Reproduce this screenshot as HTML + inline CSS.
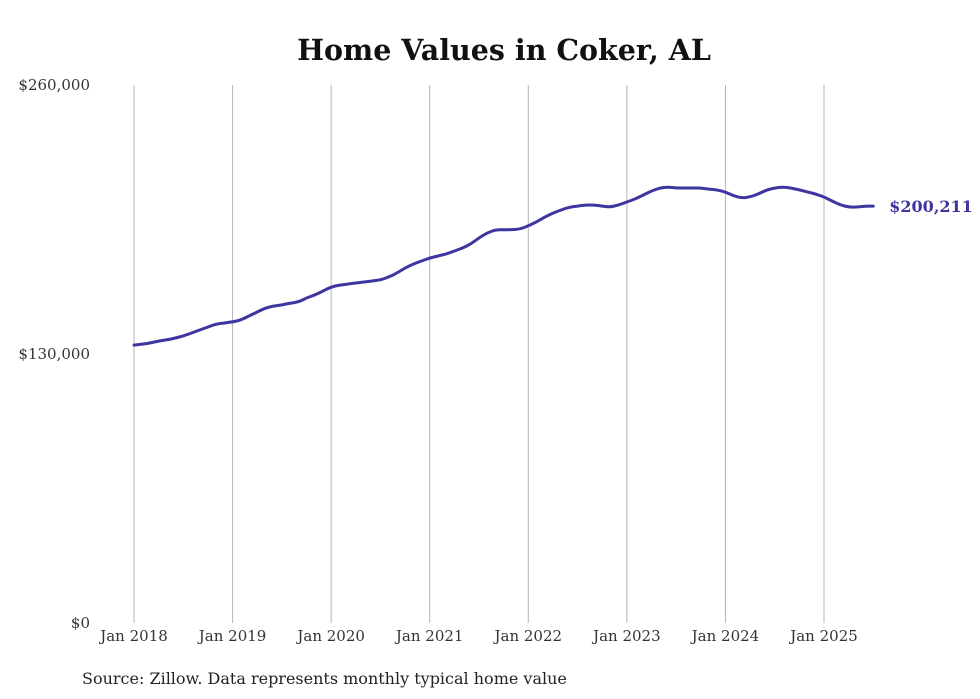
<!DOCTYPE html>
<html><head><meta charset="utf-8"><style>
body{margin:0;background:#fff;}
svg{display:block;font-family:"DejaVu Serif","Liberation Serif",serif;}
</style></head><body>
<svg id="c" width="980" height="699">
<text x="504" y="60" text-anchor="middle" font-size="28.5" font-weight="bold" fill="#111">Home Values in Coker, AL</text>
<text x="82" y="684" font-size="16" fill="#222">Source: Zillow. Data represents monthly typical home value</text>
</svg>
<script>
const yTicks=[0,130000,260000];
const yTickLabels=["$0","$130,000","$260,000"];
const xTickYears=[2018,2019,2020,2021,2022,2023,2024,2025];
const xTickLabels=["Jan 2018","Jan 2019","Jan 2020","Jan 2021","Jan 2022","Jan 2023","Jan 2024","Jan 2025"];
const values=[134300,134800,135300,136300,136800,137700,138700,140100,141600,143000,144500,145000,
145500,146400,148400,150300,152200,153200,153700,154600,155100,157100,158500,160400,
162400,163300,163800,164300,164800,165300,165800,167200,169100,171600,173500,174900,
176400,177400,178300,179800,181200,183200,186100,188500,190000,190000,190000,190400,
191900,193800,196200,198100,199600,201000,201500,202000,202000,201500,201000,202000,
203500,204900,206800,208800,210200,210700,210200,210200,210200,210200,209700,209300,208300,
206400,205400,205900,207300,209300,210200,210700,210200,209300,208300,207300,205900,
203900,202000,201000,201000,201500,201500,200211].slice(0,91);
const lastLabel="$200,211";
const NS="http://www.w3.org/2000/svg";
const svg=document.getElementById('c');
const y0=623,y1=85,vmax=260000;
const yS=v=>y0-(v/vmax)*(y0-y1);
const xS=m=>134+m*(824-134)/84;
function mk(t,a){const e=document.createElementNS(NS,t);for(const k in a)e.setAttribute(k,a[k]);svg.appendChild(e);return e;}
xTickYears.forEach((yr,i)=>{
  const x=xS((yr-2018)*12);
  const l=mk('line',{x1:x,x2:x,y1:y1,y2:y0,stroke:'#b5b5b5','stroke-width':1});
  
  
  const t=mk('text',{x:x,y:641,'text-anchor':'middle','font-size':15,fill:'#333'});
  t.textContent=xTickLabels[i];
  
  
});
yTicks.forEach((v,i)=>{
  const t=mk('text',{x:90,y:yS(v)+5,'text-anchor':'end','font-size':15,fill:'#333'});
  t.textContent=yTickLabels[i];
  
  
});
const pts=values.map((v,i)=>[xS(i),yS(v)]);
let d='M'+pts[0][0].toFixed(1)+' '+pts[0][1].toFixed(1);
for(let i=1;i<pts.length-1;i++){
  const mx=(pts[i][0]+pts[i+1][0])/2,my=(pts[i][1]+pts[i+1][1])/2;
  d+=' Q'+pts[i][0].toFixed(1)+' '+pts[i][1].toFixed(1)+' '+mx.toFixed(1)+' '+my.toFixed(1);
}
const lp=pts[pts.length-1];
d+=' L'+lp[0].toFixed(1)+' '+lp[1].toFixed(1);
const p=mk('path',{d:d,fill:'none',stroke:'#3d35a0','stroke-width':3,'stroke-linejoin':'round','stroke-linecap':'round'});


const n=values.length-1;
const lt=mk('text',{x:xS(n)+16,y:yS(values[n])+6,'font-size':16,'font-weight':'bold',fill:'#3d35a0'});
lt.textContent=lastLabel;


</script>
</body></html>
